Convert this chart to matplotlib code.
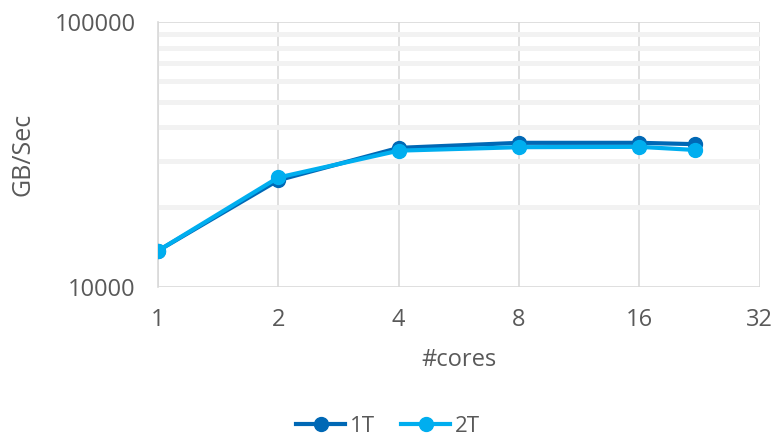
import matplotlib.pyplot as plt
from matplotlib.ticker import FixedLocator, NullFormatter, NullLocator

plt.rcParams['font.family'] = ['Open Sans', 'DejaVu Sans']

# bandwidth measurements per core count
cores = [1, 2, 4, 8, 16, 22]
bw_1t = [13700, 25300, 33500, 35000, 35000, 34600]
bw_2t = [13700, 25900, 32700, 33700, 33800, 32900]
xticks = [1, 2, 4, 8, 16, 32]
yticks = [10000, 100000]

text_col = '#595959'
fs = 17

fig = plt.figure(figsize=(7.76, 4.42), dpi=100)
ax = fig.add_axes([0.2036, 0.3507, 0.7755, 0.5995])

ax.set_xscale('log', base=2)
ax.set_yscale('log')
ax.set_xlim(1, 32)
ax.set_ylim(10000, 100000)

ax.plot(cores, bw_1t, '-o', color='#0068B5', lw=3, ms=10, label='1T', zorder=3)
ax.plot(cores, bw_2t, '-o', color='#00AEEF', lw=3, ms=10, label='2T', zorder=4)

ax.xaxis.set_major_locator(FixedLocator(xticks))
ax.set_xticklabels([str(v) for v in xticks])
ax.xaxis.set_minor_locator(NullLocator())
ax.yaxis.set_major_locator(FixedLocator(yticks))
ax.set_yticklabels([str(v) for v in yticks])
ax.yaxis.set_minor_locator(FixedLocator([k * 10000 for k in range(2, 10)]))
ax.yaxis.set_minor_formatter(NullFormatter())

ax.grid(axis='x', which='major', color='#d9d9d9', lw=1.2)
ax.grid(axis='y', which='major', color='#d9d9d9', lw=1.2)
ax.grid(axis='y', which='minor', color='#f2f2f2', lw=3.5)
ax.set_axisbelow(True)

ax.tick_params(which='both', length=0, labelsize=fs, labelcolor=text_col)
ax.tick_params(axis='x', pad=15)
ax.tick_params(axis='y', pad=16)
for side in ['top', 'right', 'bottom']:
    ax.spines[side].set_visible(False)
ax.spines['left'].set_color('#d9d9d9')
ax.spines['left'].set_linewidth(1.2)

ax.set_xlabel('#cores', fontsize=fs, color=text_col, labelpad=12)
ax.set_ylabel('GB/Sec', fontsize=fs + 1, color=text_col, labelpad=14)

fig.legend(loc='center', bbox_to_anchor=(0.5, 0.035), ncol=2, frameon=False,
           fontsize=fs - 1, labelcolor=text_col, handlelength=2.2,
           handletextpad=0.2, columnspacing=1.2, borderpad=0.1)

fig.savefig('out.png', dpi=100)
